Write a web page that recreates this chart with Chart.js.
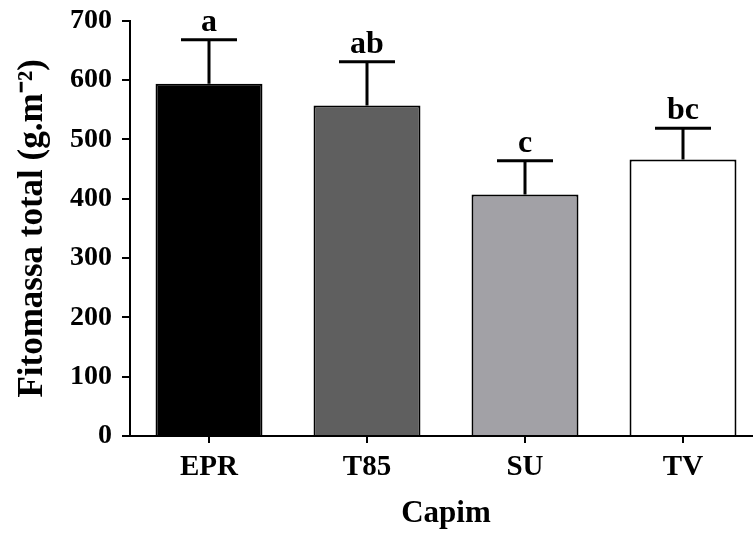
<!DOCTYPE html>
<html>
<head>
<meta charset="utf-8">
<script src="https://cdn.jsdelivr.net/npm/chart.js@4"></script>
<style>
  html, body { margin: 0; padding: 0; background: #fff; overflow: hidden; }
  #wrap { width: 762px; height: 539px; margin-top: -6px; }
</style>
</head>
<body>
<div id="wrap"><canvas id="myChart" width="762" height="539"></canvas></div>
<script>
const categories = ["EPR", "T85", "SU", "TV"];
const means = [594, 557, 407, 466];
const errors = [74, 74, 57, 53];
const letters = ["a", "ab", "c", "bc"];
const barColors = ["#000000", "#5f5f5f", "#a2a1a6", "#ffffff"];
const yTicks = [0, 100, 200, 300, 400, 500, 600, 700];

Chart.defaults.font.family = "'Liberation Serif', 'Times New Roman', serif";
Chart.defaults.color = "#000";

// error bars + significance letters
const errorBars = {
  id: "errorBars",
  afterDatasetsDraw(chart) {
    const ctx = chart.ctx;
    const y = chart.scales.y;
    const meta = chart.getDatasetMeta(0);
    ctx.save();
    ctx.strokeStyle = "#000";
    ctx.lineWidth = 3;
    meta.data.forEach((bar, i) => {
      const top = y.getPixelForValue(means[i] + errors[i]);
      const base = y.getPixelForValue(means[i]);
      ctx.beginPath();
      ctx.moveTo(bar.x, base);
      ctx.lineTo(bar.x, top);
      ctx.moveTo(bar.x - 28, top);
      ctx.lineTo(bar.x + 28, top);
      ctx.stroke();
      ctx.font = "bold 32px 'Liberation Serif', serif";
      ctx.fillStyle = "#000";
      ctx.textAlign = "center";
      ctx.textBaseline = "alphabetic";
      ctx.fillText(letters[i], bar.x, top - 9);
    });
    ctx.restore();
  }
};

new Chart(document.getElementById("myChart"), {
  type: "bar",
  data: {
    labels: categories,
    datasets: [{
      data: means,
      backgroundColor: barColors,
      borderColor: "#000",
      borderWidth: 2,
      categoryPercentage: 1,
      barPercentage: 0.677
    }]
  },
  options: {
    responsive: false,
    animation: false,
    devicePixelRatio: 1,
    layout: { padding: { top: 14, left: 0, right: 0, bottom: 0 } },
    plugins: { legend: { display: false }, tooltip: { enabled: false } },
    scales: {
      x: {
        grid: { drawOnChartArea: false, offset: false, tickLength: 7, color: "#000", lineWidth: 2 },
        border: { color: "#000", width: 2 },
        ticks: { font: { size: 29, weight: "bold" }, padding: 7 },
        title: { display: true, text: "Capim", font: { size: 31, weight: "bold" }, padding: { top: 0, bottom: 0 } },
        afterFit(s) { s.height = 97; }
      },
      y: {
        min: 0,
        max: 700,
        afterBuildTicks(s) { s.ticks = yTicks.map(v => ({ value: v })); },
        grid: { drawOnChartArea: false, tickLength: 8, color: "#000", lineWidth: 2 },
        border: { color: "#000", width: 2 },
        ticks: { font: { size: 28, weight: "bold" }, padding: 10 },
        title: { display: true, text: "Fitomassa total (g.m⁻²)", font: { size: 35, weight: "bold" }, padding: { top: 12, bottom: 0 } },
        afterFit(s) { s.width = 130; }
      }
    }
  },
  plugins: [errorBars]
});
</script>
</body>
</html>
